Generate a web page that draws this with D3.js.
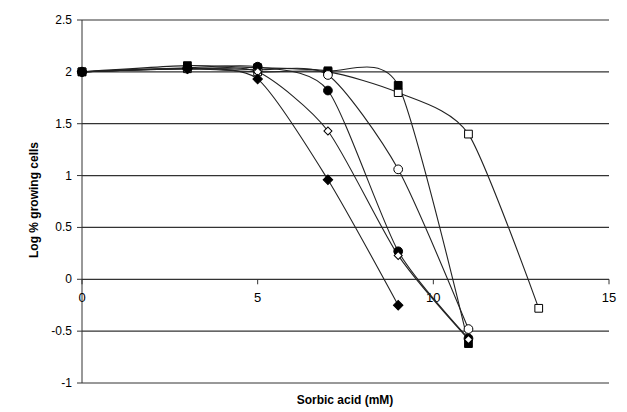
<!DOCTYPE html><html><head><script src="https://cdn.jsdelivr.net/npm/d3@7"></script>
<style>body{margin:0;background:#fff}</style></head><body><svg id="c" width="627" height="412"></svg>
<script>
const xTicks=[0,5,10,15];
const yTicks=[-1,-0.5,0,0.5,1,1.5,2,2.5];
const sFilledDiamond=[[0,2],[3,2.03],[5,1.93],[7,0.96],[9,-0.25]];
const sOpenDiamond=[[0,2],[3,2.03],[5,2.0],[7,1.43],[9,0.23],[11,-0.58]];
const sFilledCircle=[[0,2],[3,2.04],[5,2.05],[7,1.82],[9,0.27],[11,-0.57]];
const sOpenCircle=[[0,2],[3,2.03],[5,2.02],[7,1.97],[9,1.06],[11,-0.48]];
const sFilledSquare=[[0,2],[3,2.06],[5,2.04],[7,2.01],[9,1.87],[11,-0.62]];
const sOpenSquare=[[0,2],[3,2.03],[5,2.0],[7,2.0],[9,1.8],[11,1.4],[13,-0.28]];
const series=[
 {d:sOpenSquare,shape:d3.symbolSquare,fill:"#fff",size:60,rot:0},
 {d:sFilledSquare,shape:d3.symbolSquare,fill:"#000",size:60,rot:0},
 {d:sOpenCircle,shape:d3.symbolCircle,fill:"#fff",size:60,rot:0},
 {d:sFilledCircle,shape:d3.symbolCircle,fill:"#000",size:60,rot:0},
 {d:sOpenDiamond,shape:d3.symbolSquare,fill:"#fff",size:32,rot:45},
 {d:sFilledDiamond,shape:d3.symbolSquare,fill:"#000",size:45,rot:45}];
const svg=d3.select("#c");
const x=d3.scaleLinear().domain([0,15]).range([82,609]);
const y=d3.scaleLinear().domain([-1,2.5]).range([383,20]);
const g=svg.append("g");
const F="Arial, Liberation Sans";
yTicks.forEach(t=>{ if(t>-1) g.append("line").attr("x1",82).attr("x2",609).attr("y1",y(t)).attr("y2",y(t)).attr("stroke","#333").attr("stroke-width",1.2);});
g.append("line").attr("x1",82).attr("x2",82).attr("y1",20).attr("y2",383).attr("stroke","#333");
g.append("line").attr("x1",82).attr("x2",609).attr("y1",383).attr("y2",383).attr("stroke","#333");
yTicks.forEach(t=>{g.append("line").attr("x1",77).attr("x2",82).attr("y1",y(t)).attr("y2",y(t)).attr("stroke","#333");
 g.append("text").attr("x",72).attr("y",y(t)+4).attr("text-anchor","end").attr("font-family",F).attr("font-size",12).text(t);});
xTicks.forEach(t=>{g.append("line").attr("x1",x(t)).attr("x2",x(t)).attr("y1",y(0)).attr("y2",y(0)+5).attr("stroke","#333");
 g.append("text").attr("x",x(t)).attr("y",y(0)+23).attr("text-anchor","middle").attr("font-family",F).attr("font-size",13).text(t);});
const line=d3.line().x(d=>x(d[0])).y(d=>y(d[1])).curve(d3.curveCardinal.tension(0.3));
series.forEach(s=>{g.append("path").attr("d",line(s.d)).attr("fill","none").attr("stroke","#222").attr("stroke-width",1.1);});
series.forEach(s=>{s.d.forEach(p=>{g.append("path").attr("d",d3.symbol().type(s.shape).size(s.size)()).attr("transform",`translate(${x(p[0])},${y(p[1])}) rotate(${s.rot})`).attr("fill",s.fill).attr("stroke","#000").attr("stroke-width",1);});});
svg.append("text").attr("x",345).attr("y",404).attr("text-anchor","middle").attr("font-family",F).attr("font-weight","bold").attr("font-size",12).text("Sorbic acid (mM)");
svg.append("text").attr("transform","translate(38,200) rotate(-90)").attr("text-anchor","middle").attr("font-family",F).attr("font-weight","bold").attr("font-size",12).text("Log % growing cells");
</script></body></html>
